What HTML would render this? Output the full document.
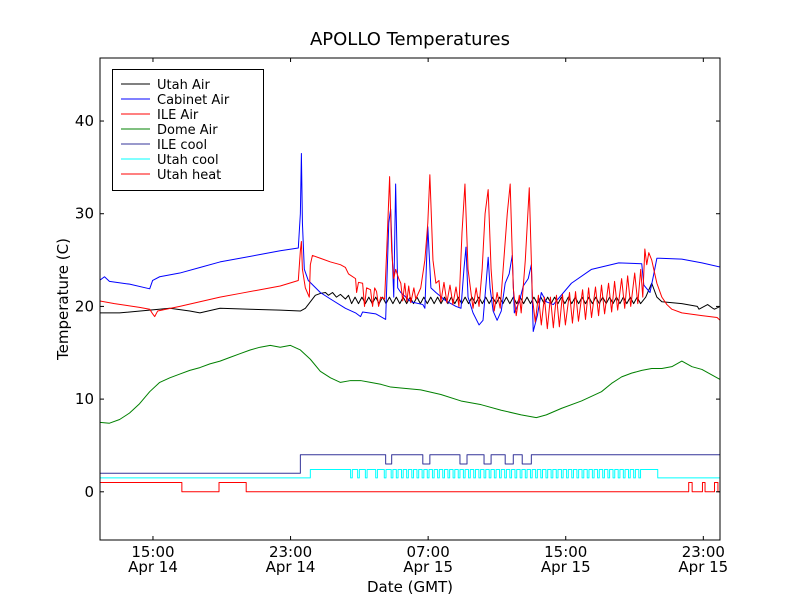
<!DOCTYPE html>
<html><head><meta charset="utf-8"><style>
html,body{margin:0;padding:0;background:#fff;}
svg{display:block;font-family:"DejaVu Sans","Liberation Sans",sans-serif;}
</style></head><body>
<svg id="chart" width="800" height="600" viewBox="0 0 800 600" xmlns="http://www.w3.org/2000/svg">
<rect x="0" y="0" width="800" height="600" fill="#fff"/>
<text x="410" y="45" font-size="18" text-anchor="middle">APOLLO Temperatures</text>
<text x="410" y="592" font-size="15" text-anchor="middle">Date (GMT)</text>
<text x="0" y="0" font-size="15" text-anchor="middle" transform="translate(68,299) rotate(-90)">Temperature (C)</text>
<g id="plot"></g>
<g id="axes"></g>
<g id="legend"></g>
</svg>
<script>
// ---- axis domain (hours since Apr 14 00:00 GMT) ----
const xDomain = [11.92, 47.97];
const yDomain = [-5.2, 46.8];
const xTickHours = [15, 23, 31, 39, 47];
const xTickTimes = ["15:00", "23:00", "07:00", "15:00", "23:00"];
const xTickDates = ["Apr 14", "Apr 14", "Apr 15", "Apr 15", "Apr 15"];
const yTicks = [0, 10, 20, 30, 40];
// logger clock offset: logged hour + offset = GMT hour
const logClockOffsetH = 0.45;

// ---- series data (logged hours, values in C) ----
const cabinetT = [11.44,11.73,12.02,13.19,14.36,14.53,14.94,16.11,17.28,18.45,19.61,20.78,21.95,23.00,23.12,23.18,23.24,23.35,23.58,24.28,24.87,25.74,26.33,26.62,26.74,27.50,28.08,28.26,28.37,28.49,28.55,28.66,28.78,28.96,29.54,30.24,30.36,30.53,30.71,31.00,31.58,32.17,32.46,32.63,32.75,32.87,33.16,33.51,33.74,33.92,34.04,34.15,34.33,34.56,34.80,35.03,35.26,35.44,35.56,35.85,36.08,36.37,36.55,36.66,36.90,37.13,37.42,37.83,38.88,40.05,41.63,42.97,43.09,43.45,43.67,43.85,44.02,45.30,46.47,47.64];
const cabinetV = [22.8,23.2,22.7,22.4,21.9,22.8,23.2,23.6,24.2,24.8,25.2,25.6,26.0,26.3,30,36.5,29,24,22.8,21.5,20.8,19.8,19.3,18.9,19.4,19.2,18.6,29,30.5,24,21,33.2,22,21.5,20.5,20.2,19.8,28.6,22,21.5,20.6,20.0,19.8,24,26.4,21,19.3,18.0,18.5,22.5,25.3,22,19.5,18.5,19.5,22.5,23.5,25.5,19.3,20.5,22.2,23.0,24.5,17.3,19.0,21.5,20.5,20.2,22.5,24.0,24.7,24.6,22.3,21.5,23.5,25.2,25.2,25.1,24.7,24.2];

const ileAirT = [11.44,12.31,13.77,14.36,14.53,14.65,14.82,16.11,17.28,18.45,19.61,20.78,21.95,23.00,23.12,23.18,23.24,23.41,23.64,23.70,23.82,24.28,24.87,25.45,25.74,25.92,26.33,26.39,26.50,26.74,26.85,26.97,27.20,27.32,27.44,27.55,27.67,27.79,28.02,28.14,28.31,28.43,28.55,28.66,28.84,28.96,29.07,29.19,29.31,29.42,29.54,29.72,29.83,30.12,30.36,30.53,30.65,30.83,31.00,31.18,31.29,31.47,31.64,31.82,31.99,32.17,32.34,32.52,32.69,32.87,33.04,33.16,33.34,33.51,33.69,33.86,34.04,34.21,34.39,34.56,34.74,34.91,35.15,35.32,35.50,35.67,35.85,35.96,36.20,36.43,36.61,36.78,36.96,37.13,37.31,37.48,37.66,37.83,38.01,38.18,38.36,38.53,38.77,38.94,39.12,39.29,39.53,39.70,39.88,40.05,40.28,40.46,40.63,40.81,41.04,41.22,41.39,41.57,41.80,41.98,42.15,42.33,42.56,42.74,42.91,43.03,43.15,43.26,43.38,43.55,43.67,43.85,44.14,44.43,44.72,45.30,46.47,47.35,47.64];
const ileAirV = [20.6,20.3,19.9,19.7,19.2,18.9,19.5,20.0,20.5,21.0,21.4,21.8,22.2,22.8,26,27,24,22,21,24.5,25.5,25.2,24.8,24.5,24.2,23.5,23.0,21.5,22.6,22.5,20.0,22.0,21.8,20.0,22.0,21.6,20.0,21.0,20.8,26,34.0,26,23,24,23,22.5,20.6,22.5,20.5,22.2,20.4,22.0,20.8,22.0,25,29,34.2,25,22.5,22.8,20.5,22.6,20.4,22.3,20.2,22.1,20.0,28,33.2,24,21.5,19.8,22,20.0,24,30,32.6,24,19.5,21.5,19.8,24,30,33.2,22,19.0,21.2,19.3,25,32.8,21,18.3,21.2,18.0,21.0,17.6,21.0,17.7,21.2,17.8,21.3,18.0,21.5,18.2,21.6,18.4,21.8,18.6,22,18.8,22.1,19.0,22.3,19.2,22.5,19.4,22.7,19.6,23.0,19.8,23.3,20.0,23.6,20.3,24.0,21.0,26.2,24.5,25.8,25,24,22.5,21,20.2,19.7,19.3,19.0,18.8,18.3];

const utahAirT = [11.44,12.61,14.36,15.53,16.69,17.28,18.45,20.20,21.95,23.12,23.41,23.70,23.99,24.28,24.58,24.75,24.99,25.22,25.45,25.74,25.92,26.1,26.3,26.5,26.7,26.9,27.1,27.3,27.5,27.7,27.9,28.1,28.3,28.5,28.7,28.9,29.1,29.3,29.5,29.7,29.9,30.1,30.3,30.5,30.7,30.9,31.1,31.3,31.5,31.7,31.9,32.1,32.3,32.5,32.7,32.9,33.1,33.3,33.5,33.7,33.9,34.1,34.3,34.5,34.7,34.9,35.1,35.3,35.5,35.7,35.9,36.1,36.3,36.5,36.7,36.9,37.1,37.3,37.5,37.7,37.9,38.1,38.3,38.5,38.7,38.9,39.1,39.3,39.5,39.7,39.9,40.1,40.3,40.5,40.7,40.9,41.1,41.3,41.5,41.7,41.9,42.1,42.3,42.5,42.7,42.9,43.2,43.55,43.85,44.14,45.30,46.20,46.30,46.80,47.10,47.20,47.64];
const utahAirV = [19.3,19.3,19.6,19.8,19.5,19.3,19.8,19.7,19.6,19.5,19.8,20.5,21.2,21.4,21.5,21.2,21.5,21.0,21.3,20.8,21.2,20.3,21.0,20.3,21.0,20.3,21.0,20.3,21.0,20.3,21.0,20.3,21.0,20.3,21.0,20.3,21.0,20.3,21.0,20.3,21.0,20.3,21.0,20.3,21.0,20.3,21.0,20.3,21.0,20.3,21.0,20.3,21.0,20.3,21.0,20.3,21.0,20.3,21.0,20.3,21.0,20.3,21.0,20.3,21.0,20.3,21.0,20.3,21.0,20.3,21.0,20.3,21.0,20.3,21.0,20.3,21.0,20.3,21.0,20.3,21.0,20.3,21.0,20.3,21.0,20.3,21.0,20.3,21.0,20.3,21.0,20.3,21.0,20.3,21.0,20.3,21.0,20.3,21.0,20.3,21.0,20.3,21.0,20.3,21.0,20.3,21.0,22.5,21.0,20.5,20.3,20.0,19.7,20.2,19.8,19.7,20.1,19.8];

const domeT = [11.44,12.02,12.61,13.19,13.77,14.36,14.94,15.53,16.11,16.69,17.28,17.86,18.45,19.03,19.61,20.20,20.78,21.37,21.95,22.53,23.12,23.70,24.28,24.87,25.45,26.04,26.62,27.20,27.79,28.37,28.96,30.12,31.29,32.46,33.63,34.80,35.96,36.84,37.42,38.30,39.47,40.63,41.22,41.80,42.38,42.97,43.55,44.14,44.72,45.30,45.89,46.47,47.06,47.64];
const domeV = [7.5,7.4,7.8,8.5,9.5,10.8,11.8,12.3,12.7,13.1,13.4,13.8,14.1,14.5,14.9,15.3,15.6,15.8,15.6,15.8,15.3,14.3,13.0,12.3,11.8,12.0,12.0,11.8,11.6,11.3,11.2,11.0,10.5,9.8,9.4,8.8,8.3,8.0,8.3,9.0,9.8,10.8,11.7,12.4,12.8,13.1,13.3,13.3,13.5,14.1,13.5,13.2,12.6,12.0];

// step series: change times and levels (level holds until next time)
const ileCoolT = [11.44,23.12,28.08,28.43,30.24,30.65,32.40,32.81,33.80,34.21,35.03,35.50,36.02,36.55,47.64];
const ileCoolV = [2,4,3,4,3,4,3,4,3,4,3,4,3,4,4];
const utahCoolT = [11.44,23.70,26.04,26.14,26.45,26.55,26.90,27.00,27.50,27.60,28.00,28.10,28.4,28.5,28.7,28.8,29.0,29.1,29.3,29.4,29.6,29.7,29.9,30.0,30.2,30.3,30.5,30.6,30.8,30.9,31.1,31.2,31.4,31.5,31.7,31.8,32.0,32.1,32.3,32.4,32.6,32.7,32.9,33.0,33.2,33.3,33.5,33.6,33.8,33.9,34.1,34.2,34.4,34.5,34.7,34.8,35.0,35.1,35.3,35.4,35.6,35.7,35.9,36.0,36.2,36.3,36.5,36.6,36.8,36.9,37.1,37.2,37.4,37.5,37.7,37.8,38.0,38.1,38.3,38.4,38.6,38.7,38.9,39.0,39.2,39.3,39.5,39.6,39.8,39.9,40.1,40.2,40.4,40.5,40.7,40.8,41.0,41.1,41.3,41.4,41.6,41.7,41.9,42.0,42.2,42.3,42.5,42.6,42.8,42.9,43.90,47.64];
const utahCoolV = [1.5,2.4,
 1.5,2.4,1.5,2.4,1.5,2.4,1.5,2.4,1.5,2.4,1.5,2.4,1.5,2.4,1.5,2.4,1.5,2.4,
 1.5,2.4,1.5,2.4,1.5,2.4,1.5,2.4,1.5,2.4,1.5,2.4,1.5,2.4,1.5,2.4,1.5,2.4,
 1.5,2.4,1.5,2.4,1.5,2.4,1.5,2.4,1.5,2.4,1.5,2.4,1.5,2.4,1.5,2.4,1.5,2.4,
 1.5,2.4,1.5,2.4,1.5,2.4,1.5,2.4,1.5,2.4,1.5,2.4,1.5,2.4,1.5,2.4,1.5,2.4,
 1.5,2.4,1.5,2.4,1.5,2.4,1.5,2.4,1.5,2.4,1.5,2.4,1.5,2.4,1.5,2.4,1.5,2.4,
 1.5,2.4,1.5,2.4,1.5,2.4,1.5,2.4,1.5,2.4,1.5,2.4,1.5,2.4,1.5,2.4,1.5,2.4,
 1.5,1.5];
const utahHeatT = [11.44,11.47,16.23,18.39,19.97,45.70,45.90,46.50,46.65,47.20,47.40,47.60,47.64];
const utahHeatV = [-1.5,1,0,1,0,1,0,1,0,1,0,1,1];

// ---- drawing ----
const NS = "http://www.w3.org/2000/svg";
const PX0 = 100, PX1 = 720, PY0 = 58, PY1 = 540;
function xScale(h){ return PX0 + (h - xDomain[0]) / (xDomain[1] - xDomain[0]) * (PX1 - PX0); }
function xData(t){ return xScale(t + logClockOffsetH); }
function yScale(v){ return PY1 - (v - yDomain[0]) / (yDomain[1] - yDomain[0]) * (PY1 - PY0); }
function mk(tag, attrs, parent){
  const el = document.createElementNS(NS, tag);
  for (const k in attrs) el.setAttribute(k, attrs[k]);
  parent.appendChild(el);
  return el;
}
const plot = document.getElementById("plot");
const axes = document.getElementById("axes");
const legend = document.getElementById("legend");

const clip = mk("clipPath", {id: "pc"}, mk("defs", {}, plot));
mk("rect", {x: PX0, y: PY0, width: PX1 - PX0, height: PY1 - PY0}, clip);
const g = mk("g", {"clip-path": "url(#pc)"}, plot);

function linePath(T, V){
  const n = Math.min(T.length, V.length);
  let d = "";
  for (let i = 0; i < n; i++) d += (i ? " L" : "M") + xData(T[i]).toFixed(2) + " " + yScale(V[i]).toFixed(2);
  return d;
}
function stepPath(T, V){
  const n = Math.min(T.length, V.length);
  let d = "M" + xData(T[0]).toFixed(2) + " " + yScale(V[0]).toFixed(2);
  for (let i = 1; i < n; i++){
    d += " L" + xData(T[i]).toFixed(2) + " " + yScale(V[i - 1]).toFixed(2);
    d += " L" + xData(T[i]).toFixed(2) + " " + yScale(V[i]).toFixed(2);
  }
  return d;
}
const series = [
  {name: "Utah Air", key: "utah-air", color: "#000000", d: linePath(utahAirT, utahAirV)},
  {name: "Cabinet Air", key: "cabinet-air", color: "#0000ff", d: linePath(cabinetT, cabinetV)},
  {name: "ILE Air", key: "ile-air", color: "#ff0000", d: linePath(ileAirT, ileAirV)},
  {name: "Dome Air", key: "dome-air", color: "#008000", d: linePath(domeT, domeV)},
  {name: "ILE cool", key: "ile-cool", color: "#333399", d: stepPath(ileCoolT, ileCoolV)},
  {name: "Utah cool", key: "utah-cool", color: "#00ffff", d: stepPath(utahCoolT, utahCoolV)},
  {name: "Utah heat", key: "utah-heat", color: "#ff0000", d: stepPath(utahHeatT, utahHeatV)}
];
const drawOrder = [3, 4, 5, 6, 0, 1, 2];
drawOrder.forEach(i => {
  const s = series[i];
  const p = mk("path", {d: s.d, fill: "none", stroke: s.color, "stroke-width": 1, "stroke-linejoin": "round"}, g);
  
  
});

// frame
const frame = mk("rect", {x: PX0, y: PY0, width: PX1 - PX0, height: PY1 - PY0, fill: "none", stroke: "#000", "stroke-width": 1}, axes);



// y ticks
yTicks.forEach(v => {
  const y = yScale(v);
  mk("line", {x1: PX0, y1: y, x2: PX0 + 4, y2: y, stroke: "#000"}, axes);
  mk("line", {x1: PX1, y1: y, x2: PX1 - 4, y2: y, stroke: "#000"}, axes);
  const t = mk("text", {x: PX0 - 6, y: y + 5, "font-size": 15, "text-anchor": "end"}, axes);
  t.textContent = String(v);
  
  
});
// x ticks
xTickHours.forEach((h, i) => {
  const x = xScale(h);
  mk("line", {x1: x, y1: PY1, x2: x, y2: PY1 - 4, stroke: "#000"}, axes);
  mk("line", {x1: x, y1: PY0, x2: x, y2: PY0 + 4, stroke: "#000"}, axes);
  const t1 = mk("text", {x: x, y: 557, "font-size": 15, "text-anchor": "middle"}, axes);
  t1.textContent = xTickTimes[i];
  
  
  const t2 = mk("text", {x: x, y: 572, "font-size": 15, "text-anchor": "middle"}, axes);
  t2.textContent = xTickDates[i];
  
  
});

// legend
const lbox = mk("rect", {x: 112.5, y: 69.5, width: 151, height: 121, fill: "#fff", stroke: "#000", "stroke-width": 1}, legend);


series.forEach((s, i) => {
  const y = 84 + i * 15;
  const ent = mk("g", {}, legend);
  
  
  mk("line", {x1: 121, y1: y, x2: 150, y2: y, stroke: s.color, "stroke-width": 1}, ent);
  const t = mk("text", {x: 157, y: y + 5, "font-size": 13}, ent);
  t.textContent = s.name;
});
</script>
</body></html>
